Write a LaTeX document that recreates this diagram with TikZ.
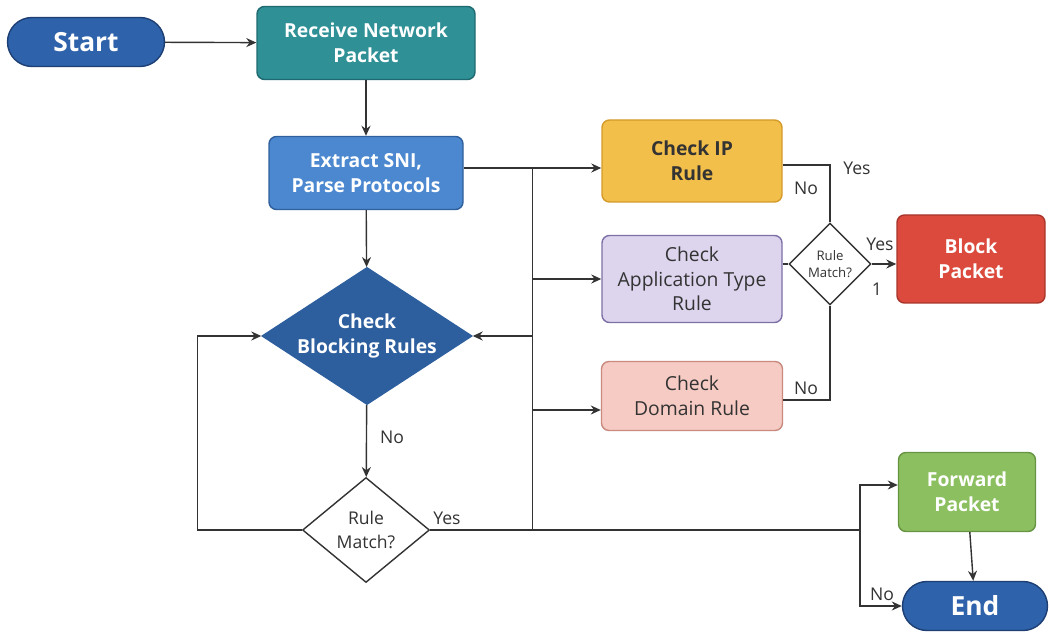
\documentclass[tikz,border=0pt]{standalone}
\usepackage{fontspec}
\setmainfont{Open Sans}
\usepackage{tikz}
\usetikzlibrary{calc}
\usetikzlibrary{shapes.geometric}
\usetikzlibrary{shapes.misc}
\usetikzlibrary{arrows.meta}
\definecolor{termblue}{HTML}{2E62AA}
\definecolor{termedge}{HTML}{1E3F73}
\definecolor{recvteal}{HTML}{2F9096}
\definecolor{recvedge}{HTML}{1F6A70}
\definecolor{snifill}{HTML}{4C88D0}
\definecolor{sniedge}{HTML}{2F5F9C}
\definecolor{blkdiam}{HTML}{2D5E9E}
\definecolor{ipfill}{HTML}{F3BF4B}
\definecolor{ipedge}{HTML}{D49A2A}
\definecolor{appfill}{HTML}{DDD5EE}
\definecolor{appedge}{HTML}{7E6FA6}
\definecolor{domfill}{HTML}{F6CBC3}
\definecolor{domedge}{HTML}{C98B80}
\definecolor{blockred}{HTML}{DB4A3D}
\definecolor{blockedge}{HTML}{A8352B}
\definecolor{fwdgreen}{HTML}{8CBF5F}
\definecolor{fwdedge}{HTML}{679443}
\definecolor{linegray}{HTML}{333333}
\tikzset{
    terminal/.style={rounded rectangle, draw=termedge, fill=termblue, text=white, line width=0.8pt, font=\fontsize{15}{17}\selectfont\bfseries, inner sep=0pt},
    procbox/.style={rectangle, rounded corners=0.15cm, line width=0.8pt, align=center, inner sep=0pt, font=\fontsize{11}{14}\selectfont},
    whitebox/.style={procbox, text=white, font=\fontsize{11}{14}\selectfont\bfseries},
    decision/.style={diamond, draw=linegray, fill=white, line width=0.8pt, align=center, inner sep=0pt, text=linegray},
    flowline/.style={draw=linegray, line width=0.8pt},
    lbl/.style={text=linegray, font=\fontsize{10}{12}\selectfont}
}
\begin{document}
\begin{tikzpicture}[>={Stealth[length=2mm,width=1.8mm]}]
    \useasboundingbox (0,0) rectangle (20.98,12.64);

    \node[terminal, minimum width=3.14cm, minimum height=0.98cm] (start) at (1.72,11.80) {Start};
    \node[whitebox, draw=recvedge, fill=recvteal, minimum width=4.36cm, minimum height=1.46cm] (receive) at (7.32,11.78) {Receive Network\\Packet};
    \node[whitebox, draw=sniedge, fill=snifill, minimum width=3.88cm, minimum height=1.46cm] (extract) at (7.32,9.18) {Extract SNI,\\Parse Protocols};
    \node[decision, draw=blkdiam, fill=blkdiam, text=white, shape aspect=1.53, inner sep=-0.1cm, minimum width=4.2cm, minimum height=2.74cm, font=\fontsize{11}{14}\selectfont\bfseries] (blocking) at (7.34,5.92) {Check\\Blocking Rules};
    \node[decision, minimum width=2.54cm, minimum height=2.1cm, font=\fontsize{10}{14}\selectfont] (match) at (7.32,2.04) {Rule\\Match?};

    \node[procbox, draw=ipedge, fill=ipfill, text=linegray, minimum width=3.6cm, minimum height=1.64cm, font=\fontsize{11}{14}\selectfont\bfseries] (iprule) at (13.84,9.42) {Check IP\\Rule};
    \node[procbox, draw=appedge, fill=appfill, text=linegray, minimum width=3.6cm, minimum height=1.74cm] (apprule) at (13.84,7.06) {Check\\Application Type\\Rule};
    \node[procbox, draw=domedge, fill=domfill, text=linegray, minimum width=3.62cm, minimum height=1.38cm] (domrule) at (13.84,4.72) {Check\\Domain Rule};
    \node[decision, minimum width=1.64cm, minimum height=1.64cm, font=\fontsize{7.5}{10}\selectfont] (rulematch) at (16.6,7.36) {Rule\\Match?};

    \node[whitebox, draw=blockedge, fill=blockred, minimum width=2.96cm, minimum height=1.76cm] (block) at (19.42,7.46) {Block\\Packet};
    \node[whitebox, draw=fwdedge, fill=fwdgreen, minimum width=2.74cm, minimum height=1.58cm] (forward) at (19.34,2.8) {Forward\\Packet};
    \node[terminal, minimum width=2.9cm, minimum height=0.98cm] (end) at (19.5,0.52) {End};

    \coordinate (busTop) at ($(extract.east)+(1.38,0.1)$);
    \coordinate (busBot) at (busTop |- match.east);
    \coordinate (loopL) at ($(match.west)+(-2.09,0)$);
    \coordinate (split) at (17.2,2.04);

    \draw[flowline, ->] (start) -- (receive);
    \draw[flowline, ->] (receive) -- (extract);
    \draw[flowline, ->] (extract) -- (blocking);
    \draw[flowline] ($(extract.east)+(0,0.1)$) -- (busTop) -- (busBot);
    \draw[flowline, ->] (busTop) -- (iprule.west |- busTop);
    \draw[flowline, ->] (busTop |- apprule.west) -- (apprule.west);
    \draw[flowline, ->] ($(busTop |- domrule.west)+(0,-0.28)$) -- ($(domrule.west)+(0,-0.28)$);
    \draw[flowline, ->] (busTop |- blocking.east) -- (blocking.east);

    \draw[flowline, ->] (blocking) -- (match);
    \draw[flowline, ->] (match.west) -- (loopL) -- (loopL |- blocking.west) -- (blocking.west);
    \draw[flowline] (match.east) -- (split);
    \draw[flowline, ->] (split) -- (split |- 0,2.94) -- (forward.west |- 0,2.94);
    \draw[flowline, ->] (split) -- (split |- end.west) -- (end.west);
    \draw[flowline, ->] (forward) -- (end);

    \draw[flowline] ($(iprule.east)+(0,-0.08)$) -| (rulematch.north);
    \draw[flowline] (apprule.east |- rulematch.west) -- (rulematch.west);
    \draw[flowline] ($(domrule.east)+(0,-0.08)$) -| (rulematch.south);
    \draw[flowline, ->] (rulematch.east) -- (block.west |- rulematch.east);

    \node[lbl] at (7.84,3.9) {No};
    \node[lbl] at (8.94,2.28) {Yes};
    \node[lbl] at (17.64,0.76) {No};
    \node[lbl] at (17.14,9.28) {Yes};
    \node[lbl] at (16.12,8.88) {No};
    \node[lbl] at (16.12,4.88) {No};
    \node[lbl] at (17.6,7.76) {Yes};
    \node[lbl] at (17.54,6.86) {1};
\end{tikzpicture}
\end{document}
